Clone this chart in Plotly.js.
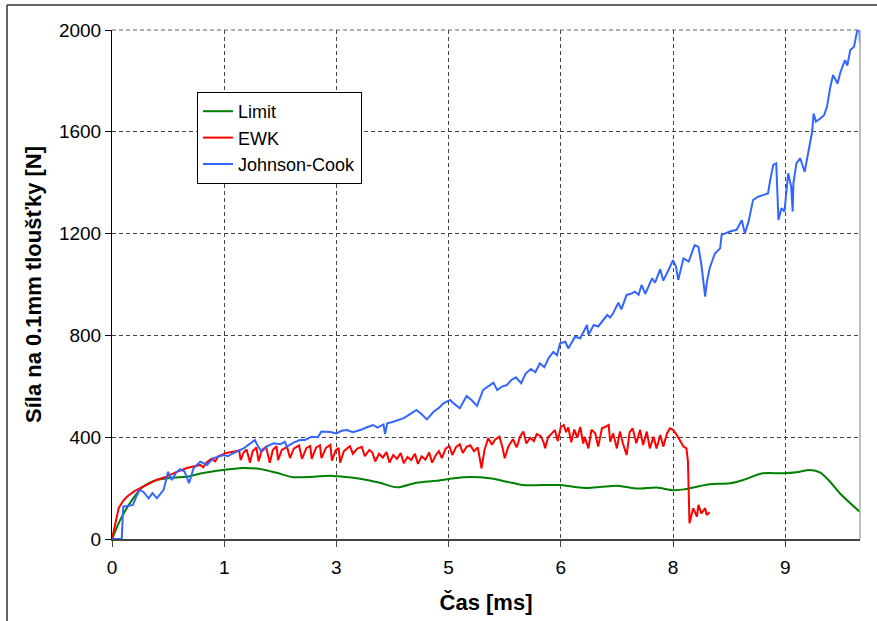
<!DOCTYPE html>
<html>
<head>
<meta charset="utf-8">
<script src="https://cdn.plot.ly/plotly-3.0.1.min.js"></script>
<style>
html,body{margin:0;padding:0;background:#fff;}
#chart{width:877px;height:621px;}
</style>
</head>
<body>
<div id="chart"></div>
<script>
// ---- data (time in ms, force in N) ----
const tickVals = [0, 1.5, 3, 4.5, 6, 7.5, 9];
const tickText = ['0', '1', '3', '5', '6', '8', '9'];
const yTicks = [0, 400, 800, 1200, 1600, 2000];

const limitT = [0,0.05,0.11,0.24,0.41,0.6,0.82,1.0,1.2,1.4,1.6,1.75,1.98,2.2,2.42,2.7,2.95,3.2,3.41,3.58,3.81,4.07,4.34,4.7,5.05,5.28,5.49,5.75,5.99,6.15,6.35,6.55,6.75,6.9,7.06,7.28,7.5,7.65,7.86,7.99,8.26,8.44,8.7,8.97,9.15,9.33,9.47,9.6,9.73,10.0];
const limitF = [0,35,75,141,204,232,241,245,258,268,275,279,275,260,243,245,248,242,232,221,203,221,229,243,239,225,212,212,212,206,200,205,209,203,198,202,192,195,208,215,219,232,258,258,262,271,261,225,180,106];

const ewkT = [0,0.03,0.06,0.09,0.15,0.2,0.3,0.41,0.5,0.6,0.73,0.85,1.0,1.1,1.18,1.22,1.26,1.33,1.38,1.42,1.53,1.6,1.66,1.7,1.72,1.76,1.8,1.845,1.88,1.93,1.96,2.0,2.06,2.11,2.15,2.2,2.22,2.27,2.34,2.38,2.43,2.5,2.54,2.6,2.65,2.67,2.73,2.78,2.8,2.86,2.92,2.94,2.99,3.03,3.05,3.1,3.18,3.22,3.28,3.34,3.38,3.44,3.48,3.52,3.57,3.62,3.67,3.71,3.76,3.81,3.86,3.9,3.95,4.0,4.05,4.09,4.14,4.19,4.24,4.28,4.33,4.37,4.41,4.46,4.51,4.55,4.6,4.65,4.69,4.74,4.79,4.84,4.89,4.94,4.98,5.03,5.08,5.12,5.18,5.22,5.25,5.3,5.36,5.41,5.46,5.5,5.54,5.59,5.64,5.68,5.73,5.77,5.79,5.83,5.88,5.92,5.96,6.0,6.04,6.07,6.1,6.14,6.18,6.22,6.26,6.3,6.32,6.37,6.41,6.46,6.5,6.55,6.59,6.64,6.66,6.7,6.75,6.79,6.83,6.88,6.92,6.96,7.01,7.06,7.1,7.15,7.19,7.24,7.28,7.33,7.37,7.42,7.46,7.5,7.55,7.59,7.64,7.68,7.7,7.72,7.77,7.82,7.84,7.88,7.93,7.95,7.99];
const ewkF = [0,45,90,122,150,166,188,205,220,233,245,262,279,286,291,282,300,315,305,325,338,342,345,348,310,340,352,300,345,360,305,348,362,300,350,365,310,350,362,318,355,368,315,358,365,315,360,368,318,358,370,308,348,358,300,345,365,335,355,362,325,350,340,305,335,320,342,300,330,315,338,298,322,310,335,295,325,312,340,300,330,345,318,355,365,330,362,372,338,362,368,345,360,278,350,397,370,390,402,360,317,365,392,360,405,422,375,398,385,412,405,380,357,400,415,428,385,440,448,420,438,380,430,398,440,375,402,356,429,415,363,435,440,448,382,415,356,422,376,330,420,435,376,429,369,422,356,402,356,409,363,415,435,429,409,389,363,356,304,62,121,88,134,101,121,94,105];

const jcT = [0,0.13,0.15,0.2,0.28,0.33,0.37,0.42,0.49,0.54,0.6,0.65,0.69,0.75,0.8,0.86,0.91,0.97,1.03,1.09,1.18,1.27,1.35,1.49,1.55,1.62,1.76,1.91,1.95,2.0,2.08,2.16,2.25,2.31,2.34,2.42,2.51,2.58,2.67,2.75,2.8,2.92,3.0,3.07,3.14,3.22,3.32,3.4,3.49,3.55,3.63,3.65,3.68,3.75,3.83,3.9,3.98,4.07,4.14,4.21,4.3,4.37,4.43,4.52,4.58,4.65,4.74,4.81,4.88,4.96,5.03,5.1,5.15,5.22,5.28,5.34,5.4,5.47,5.53,5.6,5.66,5.72,5.78,5.84,5.9,5.95,5.99,6.06,6.1,6.19,6.26,6.35,6.37,6.44,6.5,6.57,6.62,6.66,6.7,6.77,6.81,6.88,6.95,6.99,7.04,7.08,7.13,7.22,7.26,7.33,7.37,7.44,7.5,7.54,7.57,7.64,7.71,7.79,7.84,7.88,7.93,7.95,7.99,8.06,8.1,8.13,8.15,8.26,8.35,8.42,8.46,8.51,8.57,8.64,8.71,8.77,8.8,8.84,8.88,8.91,8.95,8.99,9.04,9.08,9.1,9.11,9.15,9.2,9.26,9.31,9.36,9.38,9.41,9.46,9.52,9.56,9.6,9.64,9.7,9.74,9.78,9.8,9.83,9.87,9.92,9.94,9.96,9.99,10.0];
const jcF = [0,0,127,130,134,170,193,185,160,180,160,178,193,264,232,262,274,265,219,278,304,291,317,330,325,337,356,389,365,343,365,376,372,382,363,378,389,389,402,400,422,420,415,425,428,420,428,438,448,438,450,412,455,460,468,475,490,507,490,470,500,515,533,546,530,514,562,545,523,585,600,614,585,600,605,625,635,612,650,668,655,690,675,712,735,722,769,775,749,795,789,841,802,841,835,860,880,870,887,929,902,959,965,972,960,998,963,1024,1007,1060,1015,1057,1096,1070,1018,1103,1090,1155,1148,1077,952,1004,1064,1122,1135,1142,1195,1208,1215,1253,1201,1247,1332,1345,1352,1358,1411,1470,1476,1253,1300,1287,1437,1385,1287,1398,1476,1496,1443,1529,1600,1672,1640,1650,1665,1700,1771,1823,1790,1836,1862,1882,1860,1921,1934,1974,1994,2007,1948];

// ---- layout geometry (pixels) ----
const W = 877, H = 621, L = 112, R = 17, T = 30, B = 82;
const pw = W - L - R, ph = H - T - B;
const px = v => (v - L) / pw;
const py = v => (H - B - v) / ph;

const traces = [
  {x: limitT, y: limitF, name: 'Limit', mode: 'lines', legendgroup: 'a',
   line: {color: '#008000', width: 2, shape: 'spline', smoothing: 0.8}},
  {x: ewkT, y: ewkF, name: 'EWK', mode: 'lines', legendgroup: 'b',
   line: {color: '#FF0000', width: 2}},
  {x: jcT, y: jcF, name: 'Johnson-Cook', mode: 'lines', legendgroup: 'c',
   line: {color: '#3366FF', width: 2}}
];

const layout = {
  width: W, height: H,
  margin: {l: L, r: R, t: T, b: B, pad: 0},
  paper_bgcolor: '#ffffff', plot_bgcolor: '#ffffff',
  font: {family: 'Liberation Sans, Arial, sans-serif', color: '#000', size: 19},
  showlegend: true,
  legend: {
    x: px(197), y: py(92), xanchor: 'left', yanchor: 'top',
    bgcolor: '#ffffff', bordercolor: '#000000', borderwidth: 1,
    font: {size: 18, color: '#000'}, tracegroupgap: 0,
    itemwidth: 30
  },
  xaxis: {
    range: [0, 10], tickmode: 'array', tickvals: tickVals, ticktext: tickText,
    showgrid: true, gridcolor: '#444', griddash: '4px,3px', gridwidth: 1,
    zeroline: false, showline: true, linecolor: '#444', linewidth: 1.5,
    ticks: 'outside', ticklen: 6, tickcolor: '#444', tickwidth: 1,
    ticklabelstandoff: 5,
    tickfont: {size: 19},
    title: {text: 'Čas [ms]', font: {size: 22, weight: 'bold'}, standoff: 17}
  },
  yaxis: {
    range: [0, 2000], tickmode: 'array', tickvals: yTicks,
    showgrid: true, gridcolor: '#444', griddash: '4px,3px', gridwidth: 1,
    zeroline: false, showline: true, linecolor: '#000', linewidth: 1,
    ticks: 'outside', ticklen: 6, tickcolor: '#000', tickwidth: 1,
    tickfont: {size: 19},
    title: {text: 'Síla na 0.1mm tloušťky [N]', font: {size: 22, weight: 'bold'}, standoff: 11}
  },
  shapes: [
    {type: 'line', xref: 'paper', yref: 'paper', x0: 1, x1: 1, y0: 0, y1: 1,
     line: {color: '#aaaaaa', width: 1.5}},
    {type: 'line', xref: 'paper', yref: 'paper', x0: 0, x1: 1, y0: 1, y1: 1,
     line: {color: '#666', width: 1, dash: '4px,3px'}},
    {type: 'line', xref: 'paper', yref: 'paper', x0: px(7), x1: px(7), y0: py(5), y1: py(625),
     line: {color: '#333', width: 1.5}},
    {type: 'line', xref: 'paper', yref: 'paper', x0: px(7), x1: px(880), y0: py(5), y1: py(5),
     line: {color: '#333', width: 1.5}}
  ]
};

Plotly.newPlot('chart', traces, layout, {displayModeBar: false, staticPlot: true});
</script>
</body>
</html>
